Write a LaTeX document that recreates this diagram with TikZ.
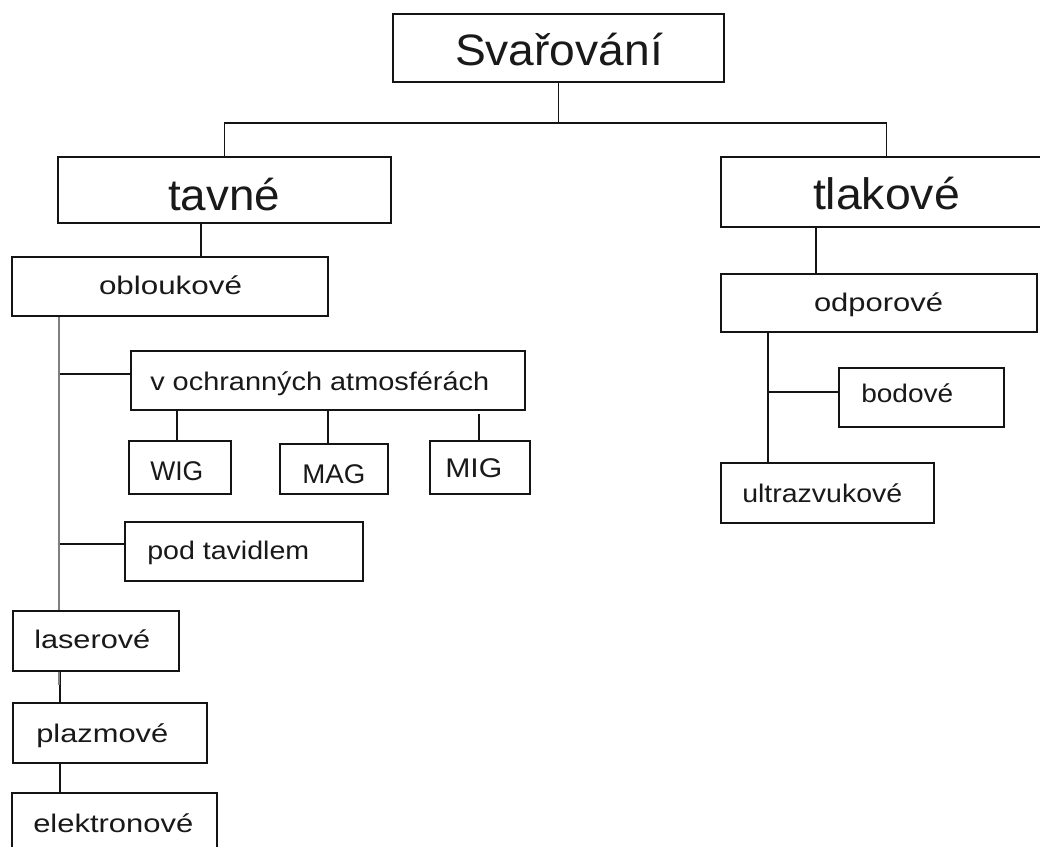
\documentclass[tikz,border=0pt]{standalone}
\usepackage{fontspec}
\setmainfont{Liberation Sans}
\usetikzlibrary{fit}
\newlength\px
\setlength\px{0.75pt}
\newcommand\fitw[2]{\resizebox{#1\px}{\height}{#2}}
\begin{document}
\begin{tikzpicture}[x=0.75pt,y=-0.75pt,
  box/.style={draw=black!92,line width=1.7pt,fill=white,inner sep=0pt,rectangle},
  conn/.style={draw=black!92,line width=1.35pt},
  trunk/.style={draw=black!50,line width=1.5pt},
  bigtxt/.style={font=\fontsize{33}{40}\selectfont,inner sep=0pt,text=black!90},
  smalltxt/.style={font=\fontsize{19.1}{23}\selectfont,inner sep=0pt,text=black!90},
  midtxt/.style={font=\fontsize{20.25}{24}\selectfont,inner sep=0pt,text=black!90}]
\useasboundingbox (0,0) rectangle (1040,847);
\fill[white] (0,0) rectangle (1040,847);

% boxes
\node[box,fit={(393,14)(724,82)}] (sv) {};
\node[box,fit={(58,157)(391,223)}] (tav) {};
\node[box,fit={(721,157)(1052,227)}] (tlak) {};
\node[box,fit={(12,257)(328,316)}] (obl) {};
\node[box,fit={(721,274)(1037,332)}] (odp) {};
\node[box,fit={(131,351)(525,410)}] (voch) {};
\node[box,fit={(129,441)(231,494)}] (wig) {};
\node[box,fit={(280,444)(388,494)}] (mag) {};
\node[box,fit={(430,441)(530,494)}] (mig) {};
\node[box,fit={(839,368)(1004,427)}] (bod) {};
\node[box,fit={(721,463)(934,523)}] (ultra) {};
\node[box,fit={(125,522)(363,581)}] (pod) {};
\node[box,fit={(13,611)(179,671)}] (las) {};
\node[box,fit={(13,703)(207,763)}] (plaz) {};
\node[box,fit={(12,793)(217,870)}] (elek) {};

% texts
\node[bigtxt,anchor=base] (tsv) at (559,65) {\fitw{208}{Svařování}};
\node[bigtxt,anchor=base] (ttav) at (224,210) {\fitw{112}{tavné}};
\node[bigtxt,anchor=base] (ttlak) at (886.5,209) {\fitw{147}{tlakové}};
\node[smalltxt,anchor=base] (tobl) at (170.5,294) {\fitw{143}{obloukové}};
\node[smalltxt,anchor=base] (todp) at (878.5,311) {\fitw{129}{odporové}};
\node[smalltxt,anchor=base west] (tvoch) at (150,390) {\fitw{339}{v ochranných atmosférách}};
\node[midtxt,anchor=base west] (twig) at (150,480) {\fitw{53}{WIG}};
\node[midtxt,anchor=base west] (tmag) at (302,483) {\fitw{63}{MAG}};
\node[midtxt,anchor=base west] (tmig) at (445,477) {\fitw{57}{MIG}};
\node[smalltxt,anchor=base west] (tbod) at (861,402) {\fitw{92}{bodové}};
\node[smalltxt,anchor=base west] (tultra) at (742,502) {\fitw{160}{ultrazvukové}};
\node[smalltxt,anchor=base west] (tpod) at (147,559) {\fitw{162}{pod tavidlem}};
\node[smalltxt,anchor=base west] (tlas) at (34,648) {\fitw{116}{laserové}};
\node[smalltxt,anchor=base west] (tplaz) at (36,742) {\fitw{132}{plazmové}};
\node[smalltxt,anchor=base west] (telek) at (33,832) {\fitw{160}{elektronové}};

% helper coordinates
\coordinate (j1) at (558.5,123);
\coordinate (x201) at (201,0);
\coordinate (x816) at (816,0);
\coordinate (x768) at (768,0);
\coordinate (x59) at (59,0);
\coordinate (x60) at (60,0);
\coordinate (x177) at (177,0);
\coordinate (x328) at (328,0);
\coordinate (x479) at (479,0);
\coordinate (b1) at (768,392);
\coordinate (v1) at (59,374);
\coordinate (p1) at (59,544);
\coordinate (g1) at (59,685);

% connectors
\draw[conn] (sv.south) -- (j1);
\draw[conn] (tav.north) |- (j1) -| (tlak.north);
\draw[conn] (tav.south -| x201) -- (obl.north -| x201);
\draw[conn] (tlak.south -| x816) -- (odp.north -| x816);
\draw[conn] (odp.south -| x768) -- (ultra.north -| x768);
\draw[conn] (b1) -- (b1 -| bod.west);
\draw[conn] (v1) -- (v1 -| voch.west);
\draw[conn] (p1) -- (p1 -| pod.west);
\draw[conn] (voch.south -| x177) -- (wig.north -| x177);
\draw[conn] (voch.south -| x328) -- (mag.north -| x328);
\draw[conn,shorten <=2.25pt] (voch.south -| x479) -- (mig.north -| x479);
\draw[conn] (las.south -| x60) -- (plaz.north -| x60);
\draw[conn] (plaz.south -| x60) -- (elek.north -| x60);
\draw[trunk] (obl.south -| x59) -- (las.north -| x59);
\draw[trunk] (las.south -| x59) -- (g1);
\end{tikzpicture}
\end{document}
